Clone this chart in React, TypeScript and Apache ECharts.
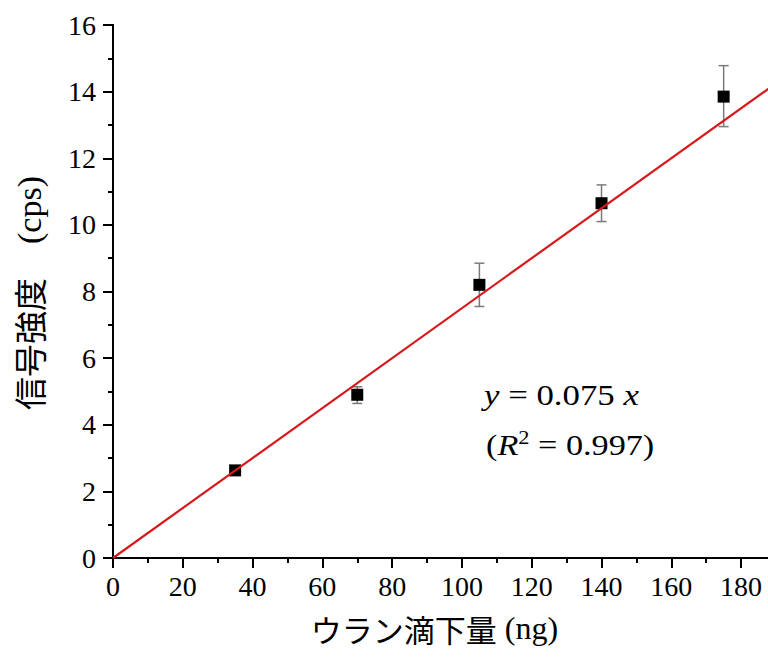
import React, { useEffect, useRef } from "react";
import * as echarts from "echarts";

// ---- data ----
const xValues = [35, 70, 105, 140, 175];
const yValues = [2.63, 4.9, 8.2, 10.65, 13.85];
const errLow = [2.56, 4.64, 7.55, 10.1, 12.95];
const errHigh = [2.7, 5.14, 8.85, 11.2, 14.78];
const fitX = [0, 190];
const fitY = [0, 14.25];
const xTitle = "ウラン滴下量";
const xUnit = "(ng)";
const yTitle = "信号強度";
const yUnit = "(cps)";
const eqLine1 = ["y", " = 0.075 ", "x"];
const eqLine2 = ["(", "R", "2", " = 0.997)"];

const SERIF = "Liberation Serif";
const CJK = "Noto Sans CJK JP";

export default function App() {
  const ref = useRef<HTMLDivElement>(null);
  useEffect(() => {
    if (!ref.current) return;
    const chart = echarts.init(ref.current, null, { renderer: "svg" });
    const scatterData = xValues.map((x, i) => [x, yValues[i]]);
    const errData = xValues.map((x, i) => [x, errLow[i], errHigh[i]]);
    const fitData = fitX.map((x, i) => [x, fitY[i]]);
    const axisLine = { show: true, lineStyle: { color: "#000", width: 2 } };
    const baseX = { type: "value", min: 0, max: 190, interval: 20, splitLine: { show: false } };
    const baseY = { type: "value", min: 0, max: 16, interval: 2, splitLine: { show: false } };
    chart.setOption({
      animation: false,
      backgroundColor: "#fff",
      grid: { left: 113, top: 25, width: 663, height: 533, containLabel: false, outerBoundsMode: "none" },
      xAxis: [
        {
          ...baseX,
          position: "bottom",
          axisLine,
          axisTick: { show: true, inside: false, length: 10, lineStyle: { color: "#000", width: 2 } },
          minorTick: { show: true, splitNumber: 2, length: 5, lineStyle: { color: "#000", width: 2 } },
          axisLabel: { show: true, showMaxLabel: false, color: "#000", fontFamily: SERIF, fontSize: 28, margin: 14 },
          name: `{a|${xTitle}}{b| ${xUnit}}`,
          nameLocation: "middle",
          nameGap: 54,
          nameTextStyle: {
            padding: [0, 20, 0, 0],
            rich: {
              a: { fontFamily: CJK, fontSize: 31, color: "#000" },
              b: { fontFamily: SERIF, fontSize: 32, color: "#000" },
            },
          },
        },
        {
          ...baseX,
          position: "top",
          axisLine,
          axisTick: { show: true, inside: true, length: 8, lineStyle: { color: "#000", width: 2 } },
          minorTick: { show: true, splitNumber: 2, length: 4, lineStyle: { color: "#000", width: 2 } },
          axisLabel: { show: false },
        },
      ],
      yAxis: [
        {
          ...baseY,
          position: "left",
          axisLine,
          axisTick: { show: true, inside: false, length: 10, lineStyle: { color: "#000", width: 2 } },
          minorTick: { show: true, splitNumber: 2, length: 5, lineStyle: { color: "#000", width: 2 } },
          axisLabel: { show: true, color: "#000", fontFamily: SERIF, fontSize: 28, margin: 17 },
        },
        {
          ...baseY,
          position: "right",
          axisLine,
          axisTick: { show: true, inside: true, length: 8, lineStyle: { color: "#000", width: 2 } },
          minorTick: { show: true, splitNumber: 2, length: 4, lineStyle: { color: "#000", width: 2 } },
          axisLabel: { show: false },
        },
      ],
      series: [
        {
          type: "custom",
          xAxisIndex: 0,
          yAxisIndex: 0,
          data: errData,
          renderItem: (params: any, api: any) => {
            const x = api.value(0);
            const lo = api.coord([x, api.value(1)]);
            const hi = api.coord([x, api.value(2)]);
            const w = 5;
            const st = { stroke: "#7a7a7a", lineWidth: 1.5 };
            return {
              type: "group",
              children: [
                { type: "line", shape: { x1: lo[0], y1: lo[1], x2: hi[0], y2: hi[1] }, style: st },
                { type: "line", shape: { x1: lo[0] - w, y1: lo[1], x2: lo[0] + w, y2: lo[1] }, style: st },
                { type: "line", shape: { x1: hi[0] - w, y1: hi[1], x2: hi[0] + w, y2: hi[1] }, style: st },
              ],
            };
          },
          z: 2,
        },
        {
          type: "scatter",
          data: scatterData,
          symbol: "rect",
          symbolSize: 12,
          itemStyle: { color: "#000", opacity: 1 },
          z: 3,
        },
        {
          type: "line",
          data: fitData,
          showSymbol: false,
          symbol: "none",
          lineStyle: { color: "#d7191c", width: 2.2 },
          z: 4,
        },
      ],
      graphic: [
        {
          type: "text",
          x: 29,
          y: 293,
          rotation: Math.PI / 2,
          style: {
            text: `{a|${yTitle}}{b|    ${yUnit}}`,
            align: "center",
            verticalAlign: "middle",
            rich: {
              a: { fontFamily: CJK, fontSize: 33, fill: "#000" },
              b: { fontFamily: SERIF, fontSize: 34, fill: "#000" },
            },
          },
        },
        {
          type: "text",
          x: 484,
          y: 381,
          scaleX: 1.2,
          style: {
            text: `{i|${eqLine1[0]}}{n|${eqLine1[1]}}{i|${eqLine1[2]}}`,
            rich: {
              i: { fontFamily: SERIF, fontSize: 29, fontStyle: "italic", fill: "#000" },
              n: { fontFamily: SERIF, fontSize: 29, fill: "#000" },
            },
          },
        },
        {
          type: "text",
          x: 486,
          y: 428,
          scaleX: 1.18,
          style: {
            text: `{n|${eqLine2[0]}}{i|${eqLine2[1]}}{s|${eqLine2[2]}}{n|${eqLine2[3]}}`,
            rich: {
              i: { fontFamily: SERIF, fontSize: 29, fontStyle: "italic", fill: "#000", lineHeight: 34 },
              n: { fontFamily: SERIF, fontSize: 29, fill: "#000", lineHeight: 34 },
              s: { fontFamily: SERIF, fontSize: 19, fill: "#000", verticalAlign: "top", lineHeight: 34 },
            },
          },
        },
      ],
    });
    return () => chart.dispose();
  }, []);
  return (
    <div
      ref={ref}
      style={{ position: "fixed", left: 0, top: 0, width: 768, height: 658, background: "#fff" }}
    />
  );
}
